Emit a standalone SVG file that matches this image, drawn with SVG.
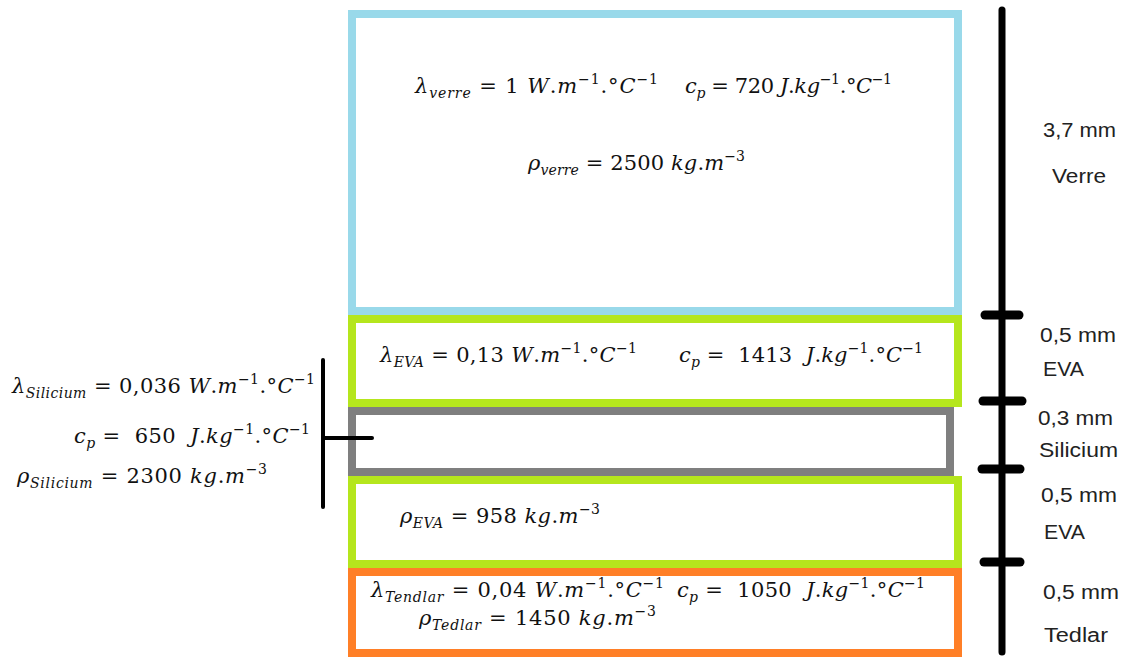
<svg xmlns="http://www.w3.org/2000/svg" width="1126" height="657" viewBox="0 0 1126 657">
<style>
.layer{fill:#fff;stroke-width:8}
.m{font-family:"DejaVu Serif","Liberation Serif",serif;font-size:21px;font-style:italic;fill:#111}
.u{font-style:normal}
.s{font-size:14px}
.lab{font-family:"Liberation Sans",Arial,sans-serif;font-size:20px;fill:#222}
.ln{stroke:#000;fill:none;stroke-linecap:round}
</style>
<rect width="1126" height="657" fill="#fff"/>
<g id="verre">
<rect class="layer" x="352" y="14" width="606" height="297" stroke="#99D9EA"/>
<text class="m" x="415" y="93" textLength="243" lengthAdjust="spacing">λ<tspan class="s" dy="5">verre</tspan><tspan class="u" dy="-5"> = 1 </tspan>W<tspan class="u">.</tspan>m<tspan class="s u" dy="-9">−1</tspan><tspan class="u" dy="9">.°</tspan>C<tspan class="s u" dy="-9">−1</tspan></text>
<text class="m" x="685" y="93" textLength="207" lengthAdjust="spacing">c<tspan class="s" dy="5">p</tspan><tspan class="u" dy="-5"> = 720 </tspan>J<tspan class="u">.</tspan>kg<tspan class="s u" dy="-9">−1</tspan><tspan class="u" dy="9">.°</tspan>C<tspan class="s u" dy="-9">−1</tspan></text>
<text class="m" x="528" y="170" textLength="217" lengthAdjust="spacing">ρ<tspan class="s" dy="5">verre</tspan><tspan class="u" dy="-5"> = 2500 </tspan>kg<tspan class="u">.</tspan>m<tspan class="s u" dy="-9">−3</tspan></text>
</g>
<g id="eva1">
<rect class="layer" x="352" y="319" width="606" height="84" stroke="#B5E61D"/>
<text class="m" x="380" y="362" textLength="257" lengthAdjust="spacing">λ<tspan class="s" dy="5">EVA</tspan><tspan class="u" dy="-5"> = 0,13 </tspan>W<tspan class="u">.</tspan>m<tspan class="s u" dy="-9">−1</tspan><tspan class="u" dy="9">.°</tspan>C<tspan class="s u" dy="-9">−1</tspan></text>
<text class="m" x="679" y="362" textLength="244" lengthAdjust="spacing">c<tspan class="s" dy="5">p</tspan><tspan class="u" dy="-5"> = &#160;1413 &#160;</tspan>J<tspan class="u">.</tspan>kg<tspan class="s u" dy="-9">−1</tspan><tspan class="u" dy="9">.°</tspan>C<tspan class="s u" dy="-9">−1</tspan></text>
</g>
<g id="silicium">
<rect class="layer" x="352" y="411" width="598" height="61" stroke="#7F7F7F"/>
<text class="m" x="12" y="393" textLength="303" lengthAdjust="spacing">λ<tspan class="s" dy="5">Silicium</tspan><tspan class="u" dy="-5"> = 0,036 </tspan>W<tspan class="u">.</tspan>m<tspan class="s u" dy="-9">−1</tspan><tspan class="u" dy="9">.°</tspan>C<tspan class="s u" dy="-9">−1</tspan></text>
<text class="m" x="74" y="443" textLength="236" lengthAdjust="spacing">c<tspan class="s" dy="5">p</tspan><tspan class="u" dy="-5"> = &#160;650 &#160;</tspan>J<tspan class="u">.</tspan>kg<tspan class="s u" dy="-9">−1</tspan><tspan class="u" dy="9">.°</tspan>C<tspan class="s u" dy="-9">−1</tspan></text>
<text class="m" x="17" y="483" textLength="250" lengthAdjust="spacing">ρ<tspan class="s" dy="5">Silicium</tspan><tspan class="u" dy="-5"> = 2300 </tspan>kg<tspan class="u">.</tspan>m<tspan class="s u" dy="-9">−3</tspan></text>
</g>
<g id="eva2">
<rect class="layer" x="352" y="480" width="606" height="84" stroke="#B5E61D"/>
<text class="m" x="400" y="523" textLength="200" lengthAdjust="spacing">ρ<tspan class="s" dy="5">EVA</tspan><tspan class="u" dy="-5"> = 958 </tspan>kg<tspan class="u">.</tspan>m<tspan class="s u" dy="-9">−3</tspan></text>
</g>
<g id="tedlar">
<rect class="layer" x="352" y="572" width="606" height="81" stroke="#FF7F27"/>
<text class="m" x="371" y="597" textLength="293" lengthAdjust="spacing">λ<tspan class="s" dy="5">Tendlar</tspan><tspan class="u" dy="-5"> = 0,04 </tspan>W<tspan class="u">.</tspan>m<tspan class="s u" dy="-9">−1</tspan><tspan class="u" dy="9">.°</tspan>C<tspan class="s u" dy="-9">−1</tspan></text>
<text class="m" x="677" y="597" textLength="248" lengthAdjust="spacing">c<tspan class="s" dy="5">p</tspan><tspan class="u" dy="-5"> = &#160;1050 &#160;</tspan>J<tspan class="u">.</tspan>kg<tspan class="s u" dy="-9">−1</tspan><tspan class="u" dy="9">.°</tspan>C<tspan class="s u" dy="-9">−1</tspan></text>
<text class="m" x="419" y="625" textLength="237" lengthAdjust="spacing">ρ<tspan class="s" dy="5">Tedlar</tspan><tspan class="u" dy="-5"> = 1450 </tspan>kg<tspan class="u">.</tspan>m<tspan class="s u" dy="-9">−3</tspan></text>
</g>
<g id="connectors">
<line class="ln" x1="323" y1="360" x2="323" y2="507" stroke-width="4" stroke-linecap="butt"/>
<line class="ln" x1="323" y1="438" x2="372" y2="438" stroke-width="4" stroke-linecap="butt"/>
</g>
<g id="scale">
<line class="ln" x1="1002" y1="10" x2="1002" y2="652" stroke-width="7"/>
<line class="ln" x1="985" y1="315" x2="1019" y2="315" stroke-width="9"/>
<line class="ln" x1="983" y1="401" x2="1022" y2="401" stroke-width="9"/>
<line class="ln" x1="982" y1="469" x2="1020" y2="469" stroke-width="9"/>
<line class="ln" x1="984" y1="562" x2="1020" y2="562" stroke-width="9"/>
<text class="lab" x="1043" y="137" textLength="73" lengthAdjust="spacingAndGlyphs">3,7 mm</text>
<text class="lab" x="1052" y="183" textLength="54" lengthAdjust="spacingAndGlyphs">Verre</text>
<text class="lab" x="1040" y="342" textLength="76" lengthAdjust="spacingAndGlyphs">0,5 mm</text>
<text class="lab" x="1043" y="376" textLength="41" lengthAdjust="spacingAndGlyphs">EVA</text>
<text class="lab" x="1038" y="425" textLength="75" lengthAdjust="spacingAndGlyphs">0,3 mm</text>
<text class="lab" x="1039" y="457" textLength="79" lengthAdjust="spacingAndGlyphs">Silicium</text>
<text class="lab" x="1041" y="502" textLength="76" lengthAdjust="spacingAndGlyphs">0,5 mm</text>
<text class="lab" x="1044" y="539" textLength="41" lengthAdjust="spacingAndGlyphs">EVA</text>
<text class="lab" x="1043" y="599" textLength="76" lengthAdjust="spacingAndGlyphs">0,5 mm</text>
<text class="lab" x="1044" y="642" textLength="64" lengthAdjust="spacingAndGlyphs">Tedlar</text>
</g>
</svg>
